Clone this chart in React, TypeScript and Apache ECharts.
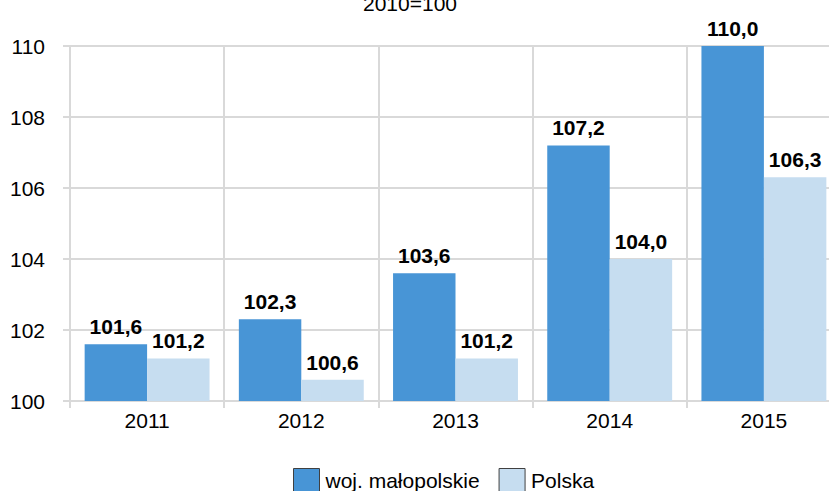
import React, { useEffect, useRef } from "react";
import * as echarts from "echarts";

const categories = ["2011", "2012", "2013", "2014", "2015"];
const malopolskie = [101.6, 102.3, 103.6, 107.2, 110.0];
const polska = [101.2, 100.6, 101.2, 104.0, 106.3];
const seriesNames = ["woj. małopolskie", "Polska"];
const subtitle = "2010=100";

const FONT = "'Liberation Sans', Arial, sans-serif";
const FS = 21;
const fmt = (v: number) => v.toFixed(1).replace(".", ",");

export default function App() {
  const ref = useRef<HTMLDivElement>(null);
  useEffect(() => {
    document.body.style.margin = "0";
    const chart = echarts.init(ref.current!, null, { renderer: "svg" });
    const label = {
      show: true,
      position: "top",
      distance: 7,
      fontFamily: FONT,
      fontSize: FS,
      fontWeight: "bold",
      color: "#000",
      formatter: (p: any) => fmt(p.value),
    };
    chart.setOption({
      animation: false,
      textStyle: { fontFamily: FONT },
      grid: {
        left: 70,
        top: 46,
        width: 771,
        height: 355,
        containLabel: false,
        outerBoundsMode: "none",
      },
      graphic: [
        {
          type: "text",
          style: {
            text: subtitle,
            x: 410,
            y: 14,
            textAlign: "center",
            textVerticalAlign: "bottom",
            fontFamily: FONT,
            fontSize: FS,
            fill: "#000",
          },
        },
      ],
      legend: {
        left: 288,
        top: 463,
        itemWidth: 26,
        itemHeight: 24,
        itemGap: 19,
        icon: "rect",
        textStyle: { fontFamily: FONT, fontSize: FS, color: "#000", padding: [0, 0, 0, 1] },
        data: [
          { name: seriesNames[0], itemStyle: { color: "#4895d6", borderColor: "#404040", borderWidth: 1 } },
          { name: seriesNames[1], itemStyle: { color: "#c6ddf0", borderColor: "#404040", borderWidth: 1 } },
        ],
      },
      xAxis: {
        type: "category",
        data: categories,
        axisLine: { lineStyle: { color: "#d9d9d9", width: 2 } },
        axisTick: { show: true, length: 7, lineStyle: { color: "#d9d9d9", width: 2 } },
        splitLine: { show: true, lineStyle: { color: "#d9d9d9", width: 2 } },
        axisLabel: { fontFamily: FONT, fontSize: FS, color: "#000", margin: 9 },
      },
      yAxis: {
        type: "value",
        min: 100,
        max: 110,
        interval: 2,
        axisLine: { show: true, lineStyle: { color: "#d9d9d9", width: 2 } },
        axisTick: { show: true, length: 7, lineStyle: { color: "#d9d9d9", width: 2 } },
        splitLine: { show: true, lineStyle: { color: "#d9d9d9", width: 2 } },
        axisLabel: { fontFamily: FONT, fontSize: FS, color: "#000", margin: 25 },
      },
      series: [
        {
          name: seriesNames[0],
          type: "bar",
          data: malopolskie,
          barGap: "0%",
          barCategoryGap: "19%",
          itemStyle: { color: "#4895d6" },
          label,
        },
        {
          name: seriesNames[1],
          type: "bar",
          data: polska,
          barGap: "0%",
          barCategoryGap: "19%",
          itemStyle: { color: "#c6ddf0" },
          label,
        },
      ],
    });
    return () => chart.dispose();
  }, []);
  return <div ref={ref} style={{ width: 829, height: 491 }} />;
}
